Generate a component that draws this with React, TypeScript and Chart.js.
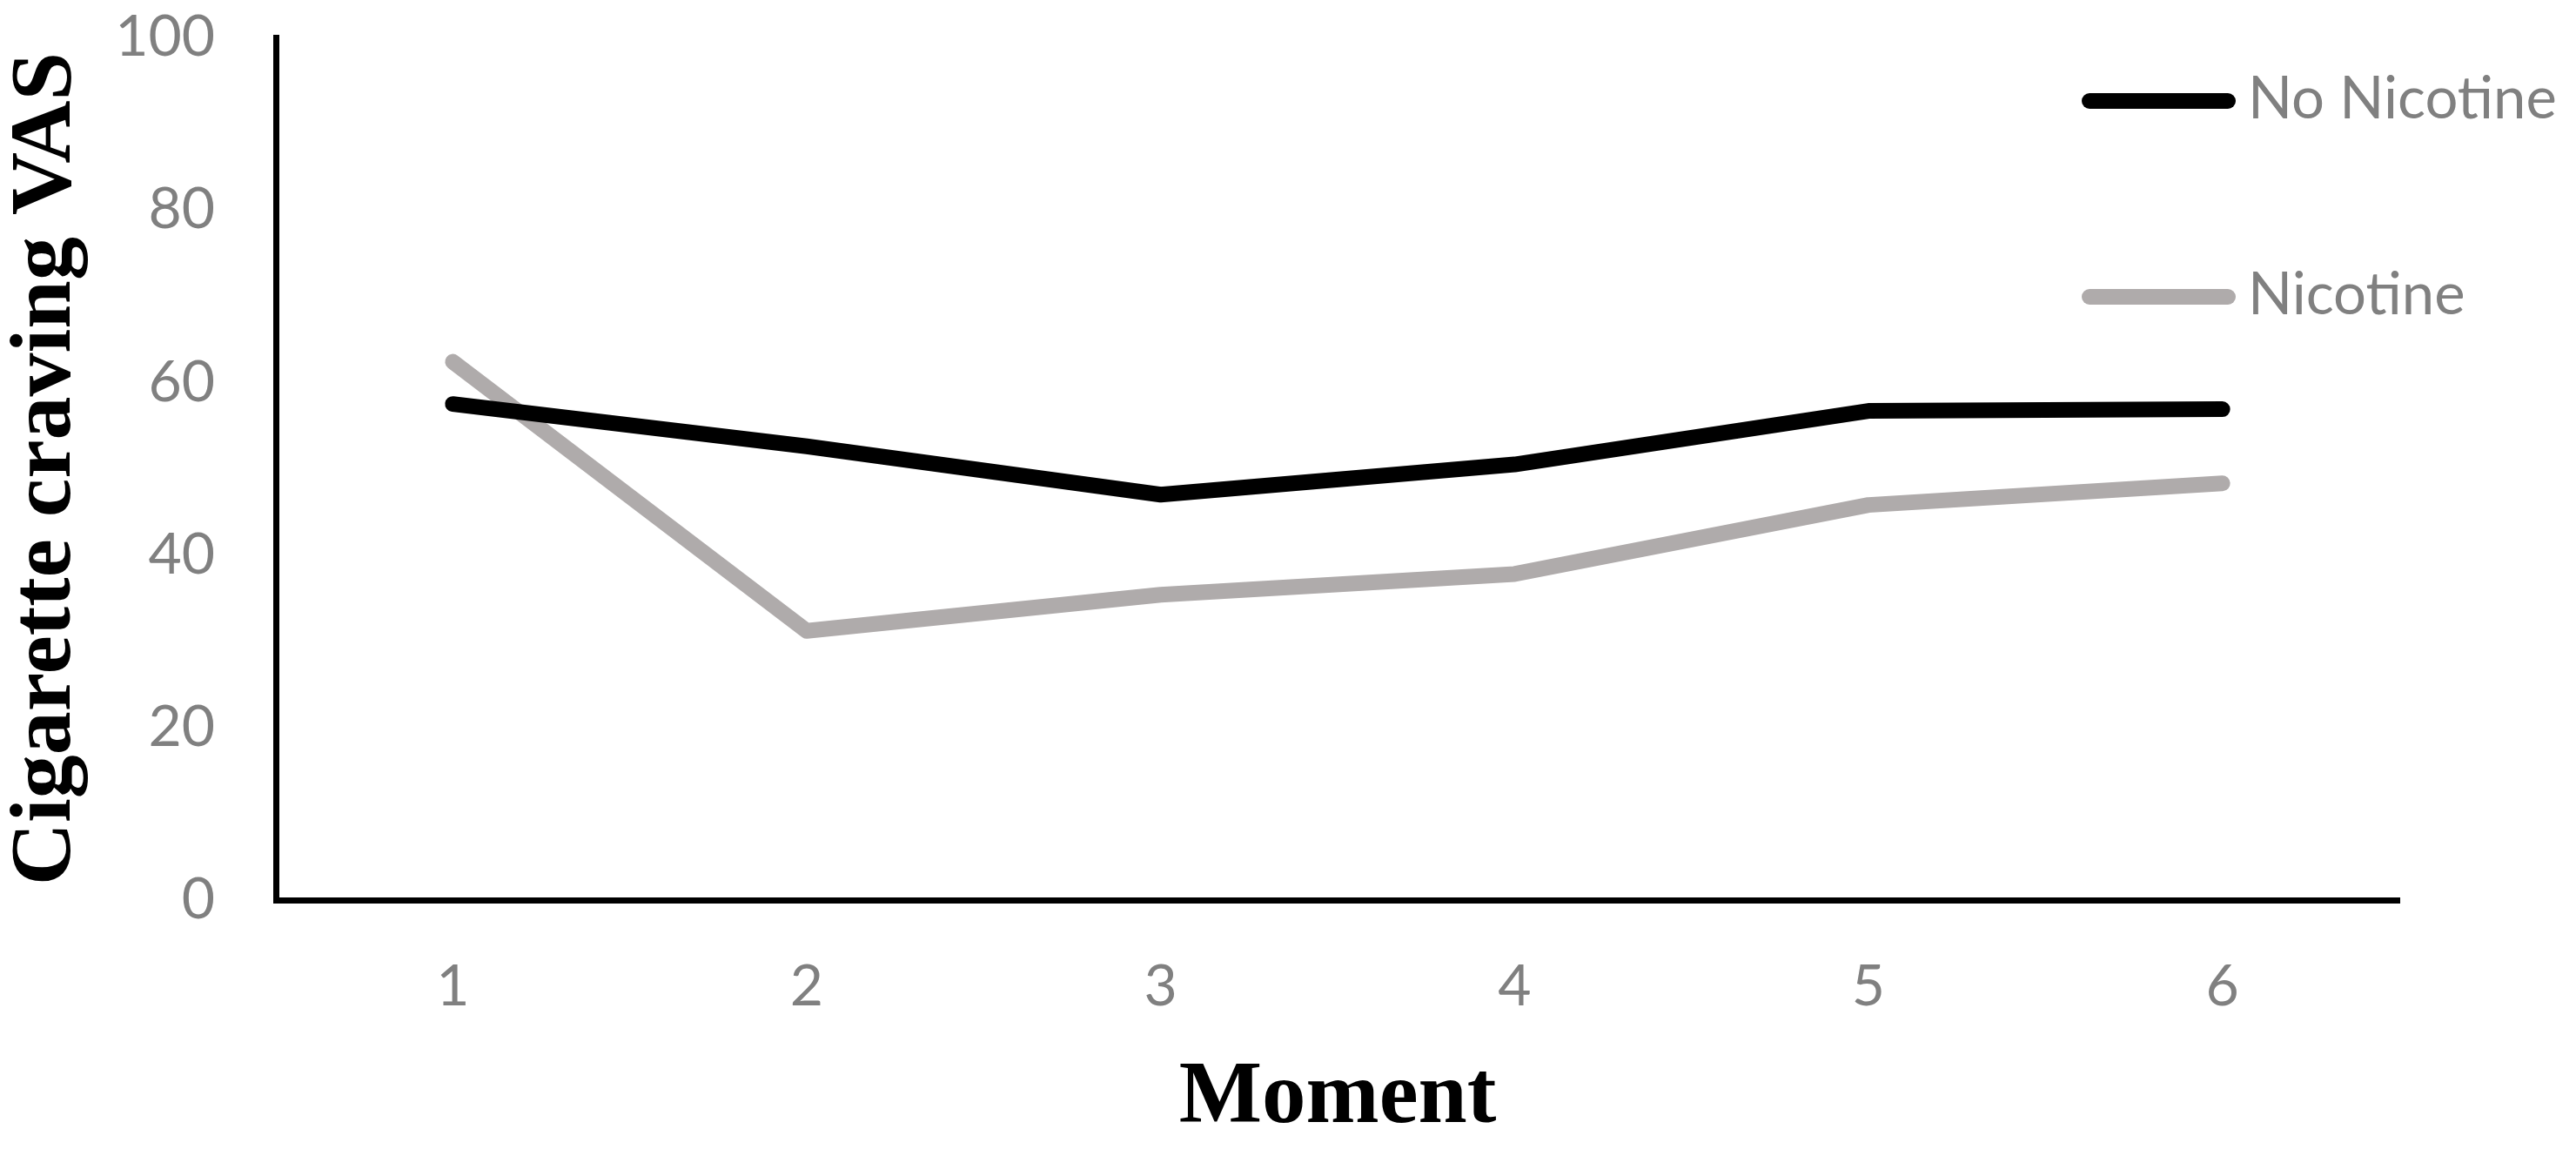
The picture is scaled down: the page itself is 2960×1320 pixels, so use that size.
import React, { useEffect, useRef } from 'react';
import { Chart, registerables } from 'chart.js';

Chart.register(...registerables);

// ---- data ----
const moments = ['1', '2', '3', '4', '5', '6'];
const noNicotine = [57.5, 52.6, 47.0, 50.5, 56.7, 56.9];
const nicotine = [62.4, 31.2, 35.4, 37.8, 45.8, 48.3];
const seriesLabels = ['No Nicotine', 'Nicotine'];
const seriesColors = ['#000000', '#AFABAB'];
const yMin = 0;
const yMax = 100;
const yStep = 20;
const xTitle = 'Moment';
const yTitle = 'Cigarette craving VAS';

const W = 2960;
const H = 1320;

const legendPlugin = {
  id: 'customLegend',
  afterDraw(chart: any) {
    const ctx = chart.ctx as CanvasRenderingContext2D;
    const rows = [116, 341];
    chart.data.datasets.forEach((ds: any, i: number) => {
      const y = rows[i];
      ctx.save();
      ctx.strokeStyle = ds.borderColor;
      ctx.lineWidth = 18;
      ctx.lineCap = 'round';
      ctx.beginPath();
      ctx.moveTo(2401, y);
      ctx.lineTo(2560, y);
      ctx.stroke();
      ctx.fillStyle = '#808080';
      ctx.font = '67px Lato';
      ctx.textBaseline = 'middle';
      ctx.textAlign = 'left';
      ctx.fillText(ds.label, 2583, y - 2);
      ctx.restore();
    });
  },
};

export default function App() {
  const ref = useRef<HTMLCanvasElement>(null);

  useEffect(() => {
    document.body.style.margin = '0';
    let chart: Chart | null = null;
    let cancelled = false;

    const build = () => {
      if (!ref.current) return;
      chart = new Chart(ref.current, {
        type: 'line',
        data: {
          labels: moments,
          datasets: [
            {
              label: seriesLabels[0],
              data: noNicotine,
              borderColor: seriesColors[0],
              backgroundColor: seriesColors[0],
              borderWidth: 18,
              borderCapStyle: 'round',
              borderJoinStyle: 'round',
              pointRadius: 0,
              tension: 0,
              fill: false,
            },
            {
              label: seriesLabels[1],
              data: nicotine,
              borderColor: seriesColors[1],
              backgroundColor: seriesColors[1],
              borderWidth: 18,
              borderCapStyle: 'round',
              borderJoinStyle: 'round',
              pointRadius: 0,
              tension: 0,
              fill: false,
            },
          ],
        },
        options: {
          animation: false,
          responsive: false,
          maintainAspectRatio: false,
          devicePixelRatio: 1,
          layout: { padding: { top: 43, right: 203, left: 0, bottom: 0 } },
          plugins: {
            legend: { display: false },
            tooltip: { enabled: false },
          },
          scales: {
            x: {
              type: 'category',
              offset: true,
              grid: { display: false, drawTicks: false },
              border: { display: true, color: '#000000', width: 7 },
              ticks: {
                color: '#808080',
                padding: 60,
                font: { family: 'Lato', size: 66, lineHeight: 1.2 },
              },
              title: {
                display: true,
                text: xTitle,
                color: '#000000',
                font: { family: '"Liberation Serif"', weight: 'bold', size: 101, lineHeight: 1 },
                padding: { top: 0, bottom: 7 },
              },
              afterFit: (scale: any) => {
                scale.height = 286;
                scale.paddingLeft = 0;
                scale.paddingRight = 0;
              },
            },
            y: {
              min: yMin,
              max: yMax,
              grid: { display: false, drawTicks: false },
              border: { display: true, color: '#000000', width: 7 },
              ticks: {
                stepSize: yStep,
                color: '#808080',
                padding: 70,
                font: { family: 'Lato', size: 66, lineHeight: 1.2 },
              },
              title: {
                display: true,
                text: yTitle,
                color: '#000000',
                font: { family: '"Liberation Serif"', weight: 'bold', size: 100, lineHeight: 1 },
                padding: { top: 4, bottom: 0 },
              },
              afterFit: (scale: any) => {
                scale.width = 317;
                scale.paddingTop = 0;
                scale.paddingBottom = 0;
              },
            },
          },
        },
        plugins: [legendPlugin],
      } as any);
    };

    Promise.all([
      document.fonts.load('66px Lato'),
      document.fonts.load('bold 100px "Liberation Serif"'),
    ])
      .catch(() => undefined)
      .then(() => {
        if (!cancelled) build();
      });

    return () => {
      cancelled = true;
      if (chart) chart.destroy();
    };
  }, []);

  return (
    <div style={{ width: W, height: H, background: '#ffffff' }}>
      <canvas ref={ref} width={W} height={H} style={{ display: 'block', width: W, height: H }} />
    </div>
  );
}
